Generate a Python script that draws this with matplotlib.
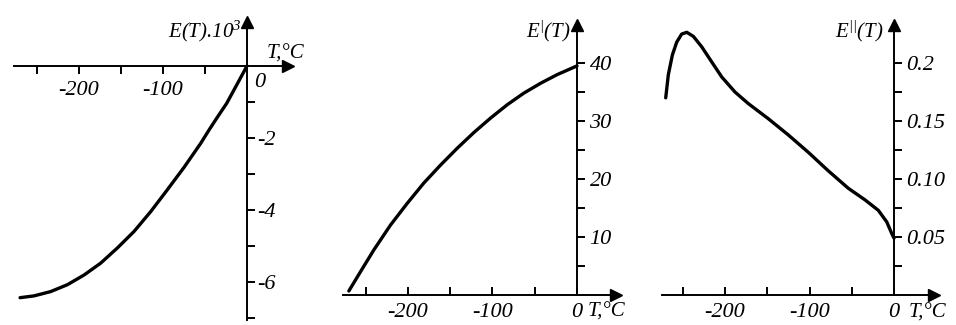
import matplotlib
matplotlib.use("Agg")
import matplotlib.pyplot as plt

# E(T)*10^3
t_e = [-270.2, -253.6, -233.7, -213.9, -194, -174.2, -154.4, -134.5, -114.7,
       -94.8, -75, -55.1, -45.2, -36, -24.2, -12.3, 0]
e_vals = [-6.44, -6.39, -6.27, -6.08, -5.81, -5.48, -5.06, -4.60, -4.05,
          -3.44, -2.82, -2.15, -1.78, -1.45, -1.04, -0.53, 0.0]

# E'(T), middle panel
t_e1 = [-269.7, -255.9, -240.2, -220.4, -200.7, -181.1, -161.3, -141.6, -122,
        -102.2, -82.5, -62.9, -43.1, -23.4, 0]
e1_vals = [0.69, 4.02, 7.76, 12.07, 15.8, 19.3, 22.4, 25.3, 28.0,
           30.5, 32.8, 34.8, 36.5, 38.0, 39.5]

# E''(T), right panel
t_e2 = [-270.2, -267.1, -262.3, -257.2, -251.3, -245.3, -237.5, -227.6, -215.8,
        -203.9, -188.2, -172.4, -148.8, -125.1, -101.4, -77.7, -54.1, -34.3,
        -18.6, -8.6, -2.7, 0]
e2_vals = [0.170, 0.190, 0.207, 0.218, 0.225, 0.2265, 0.223, 0.214, 0.201,
           0.188, 0.175, 0.165, 0.152, 0.138, 0.123, 0.107, 0.092, 0.082,
           0.073, 0.063, 0.053, 0.049]

x_major = [-200, -100]
x_major_full = [-200, -100, 0]
x_minor = [-250, -150, -50]
e_major = [-2, -4, -6]
e_minor = [-1, -3, -5, -7]
e1_major = [10, 20, 30, 40]
e1_minor = [5, 15, 25, 35]
e2_major = [0.05, 0.10, 0.15, 0.2]
e2_labels = ["0.05", "0.10", "0.15", "0.2"]
e2_minor = [0.025, 0.075, 0.125, 0.175]

plt.rcParams["font.family"] = ["Liberation Serif", "DejaVu Serif"]
plt.rcParams["font.style"] = "italic"
plt.rcParams["mathtext.fontset"] = "custom"
plt.rcParams["mathtext.it"] = "Liberation Serif:italic"
plt.rcParams["mathtext.rm"] = "Liberation Serif:italic"
plt.rcParams["axes.unicode_minus"] = False

FS_TICK = 16
FS_LAB = 15
LW_AX = 1.4
W, H = 956, 325


def rect(l, r, t, b):
    return [l / W, (H - b) / H, (r - l) / W, (b - t) / H]


def setup(ax, x_dir):
    for s in ("left", "top"):
        ax.spines[s].set_visible(False)
    ax.spines["right"].set_position(("data", 0))
    ax.spines["bottom"].set_position(("data", 0))
    for s in ("right", "bottom"):
        ax.spines[s].set_linewidth(LW_AX)
    ax.yaxis.tick_right()
    ax.tick_params(axis="y", which="both", direction="out", length=6, width=LW_AX,
                   pad=1, labelsize=FS_TICK)
    ax.tick_params(axis="x", which="both", direction=x_dir, length=6, width=LW_AX,
                   labelsize=FS_TICK)
    ax.set_facecolor("none")
    # arrow heads
    ax.plot(1, 0, ">k", ms=9, transform=ax.get_yaxis_transform(), clip_on=False)
    ax.plot(0, 1, "^k", ms=9, transform=ax.get_xaxis_transform(), clip_on=False)


fig = plt.figure(figsize=(9.56, 3.25), dpi=100)

# left panel
ax1 = fig.add_axes(rect(14, 288, 22, 320))
ax1.plot(t_e, e_vals, color="black", lw=2.4, solid_capstyle="round")
ax1.set_xlim(-277.4, 48.8)
ax1.set_ylim(-7.06, 1.22)
setup(ax1, "out")
ax1.set_xticks(x_major)
ax1.set_xticks(x_minor, minor=True)
ax1.set_yticks(e_major)
ax1.set_yticks(e_minor, minor=True)
ax1.tick_params(axis="x", pad=5)
ax1.annotate("0", xy=(0, 0), xytext=(5, -5), textcoords="offset points",
             ha="left", va="top", fontsize=FS_TICK)
ax1.text(0.83, 0.95, "E(T).10$^3$", transform=ax1.transAxes, ha="right",
         va="baseline", fontsize=FS_LAB)
ax1.text(0.923, 0.879, "T,°C", transform=ax1.transAxes, ha="left",
         va="baseline", fontsize=FS_LAB)

# middle panel
ax2 = fig.add_axes(rect(343, 616, 25, 295))
ax2.plot(t_e1, e1_vals, color="black", lw=2.4, solid_capstyle="round")
ax2.set_xlim(-276.6, 46.1)
ax2.set_ylim(0, 46.55)
setup(ax2, "in")
ax2.set_xticks(x_major_full)
ax2.set_xticks(x_minor, minor=True)
ax2.set_yticks(e1_major)
ax2.set_yticks(e1_minor, minor=True)
ax2.tick_params(axis="x", pad=6)
ax2.tick_params(axis="y", pad=3)
ax2.text(0.832, 0.956, "E$^{|}$(T)", transform=ax2.transAxes, ha="right",
         va="baseline", fontsize=FS_LAB)
ax2.text(0.897, -0.081, "T,°C", transform=ax2.transAxes, ha="left",
         va="baseline", fontsize=FS_LAB)

# right panel
ax3 = fig.add_axes(rect(662, 934, 25, 295))
ax3.plot(t_e2, e2_vals, color="black", lw=2.4, solid_capstyle="round")
ax3.set_xlim(-274.6, 47.3)
ax3.set_ylim(0, 0.2328)
setup(ax3, "in")
ax3.set_xticks(x_major_full)
ax3.set_xticks(x_minor, minor=True)
ax3.set_yticks(e2_major)
ax3.set_yticklabels(e2_labels)
ax3.set_yticks(e2_minor, minor=True)
ax3.tick_params(axis="x", pad=6)
ax3.tick_params(axis="y", pad=3)
ax3.text(0.816, 0.956, "E$^{||}$(T)", transform=ax3.transAxes, ha="right",
         va="baseline", fontsize=FS_LAB)
ax3.text(0.908, -0.085, "T,°C", transform=ax3.transAxes, ha="left",
         va="baseline", fontsize=FS_LAB)

fig.savefig("out.png", dpi=100)
